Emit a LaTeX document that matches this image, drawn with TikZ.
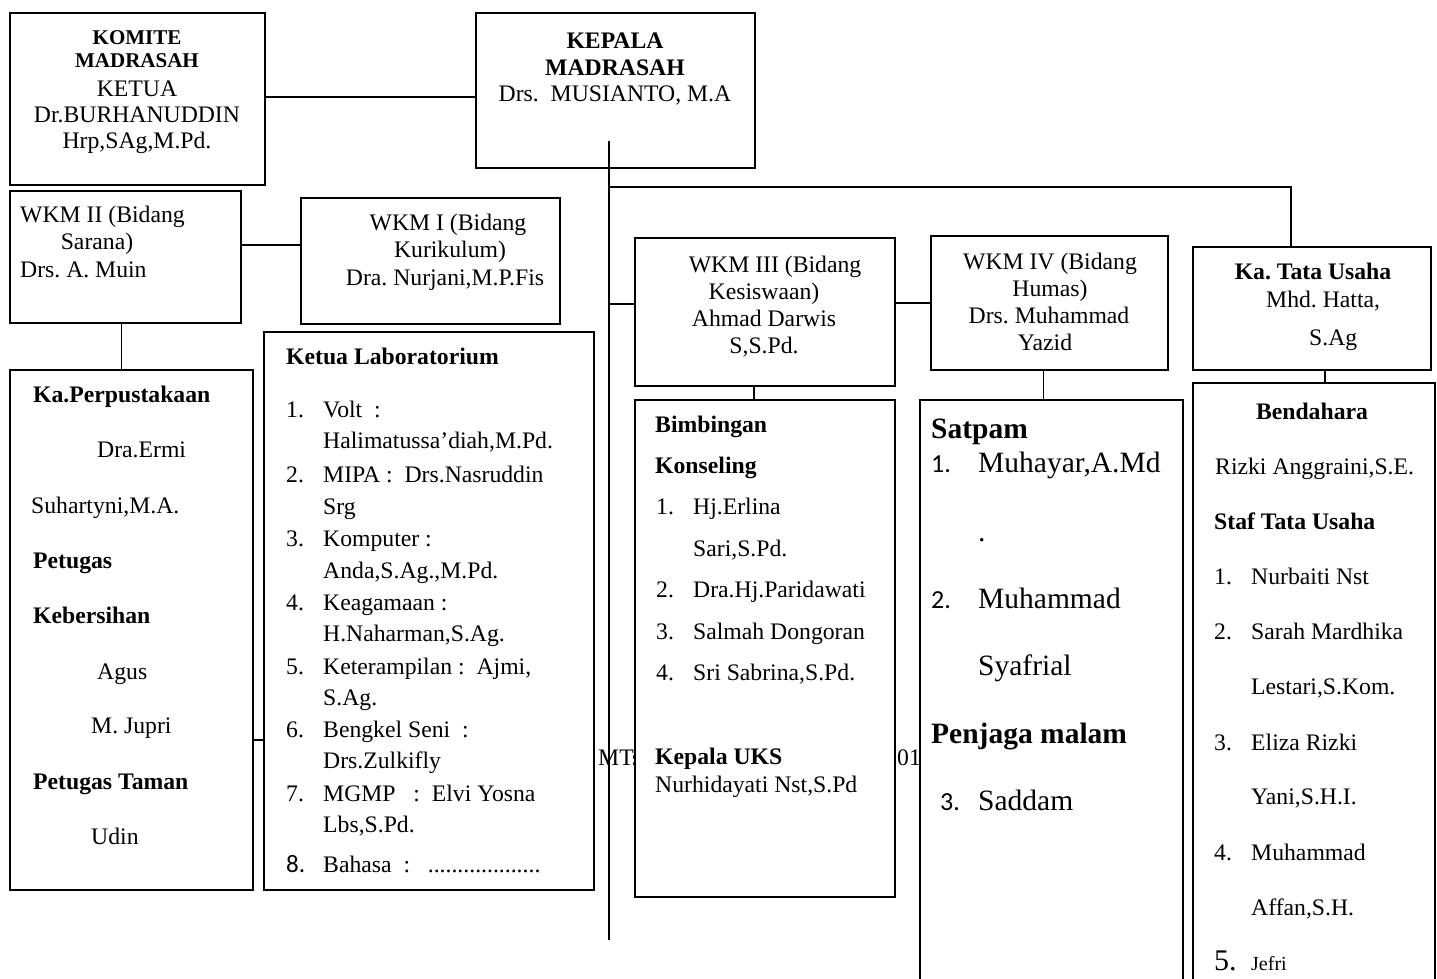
\documentclass[tikz,border=0pt]{standalone}
\usepackage{fontspec}
\setmainfont{Liberation Serif}
\newfontfamily\numfont{Carlito}
\newcommand\fs{\fontsize{23.7}{27}\selectfont}
\newcommand\fsb{\fontsize{21}{25}\selectfont\bfseries}
\newcommand\fl{\fontsize{29.5}{34}\selectfont}
\tikzset{
 box/.style={draw, line width=1.8pt, fill=white, inner sep=0pt, outer sep=0pt},
 conn/.style={line width=1.8pt},
 tl/.style={anchor=base west, inner sep=0pt, font=\fs},
 tm/.style={anchor=base, inner sep=0pt, font=\fs},
}
\frenchspacing
\begin{document}
\frenchspacing
\begin{tikzpicture}[x=1pt,y=-1pt]
\useasboundingbox (0,0) rectangle (1437,978);
% background text partly covered
\node[tl] (mts) at (598,765) {MTs};
\node[tl] (zo) at (897,765) {01};
% boxes
\node[box,minimum width=255pt,minimum height=172pt] (komite) at (137.5,99) {};
\node[box,minimum width=279pt,minimum height=155pt] (kepala) at (615.5,90.5) {};
\node[box,minimum width=231pt,minimum height=132pt] (wkm2) at (125.5,257) {};
\node[box,minimum width=259pt,minimum height=126pt] (wkm1) at (430.5,261) {};
\node[box,minimum width=260pt,minimum height=148pt] (wkm3) at (765,312) {};
\node[box,minimum width=237pt,minimum height=134pt] (wkm4) at (1049.5,303) {};
\node[box,minimum width=238pt,minimum height=123pt] (tu) at (1312,308.5) {};
\node[box,minimum width=243pt,minimum height=520pt] (perpus) at (131.5,630) {};
\node[box,minimum width=330pt,minimum height=558pt] (lab) at (429,611) {};
\node[box,minimum width=260pt,minimum height=497pt] (bk) at (765,648.5) {};
\node[box,minimum width=263pt,minimum height=590pt] (satpam) at (1051.5,695) {};
\node[box,minimum width=242pt,minimum height=607pt] (bend) at (1314,686.5) {};
% connectors
\coordinate (trunkTop) at (609,141);
\coordinate (trunkBot) at (609,940);
\coordinate (brTU) at (609,187);
\coordinate (tuIn) at ([xshift=-21pt]tu.north);
\draw[conn] (trunkTop) -- (trunkBot);
\draw[conn] ([yshift=2pt]komite.east) -- ([yshift=2pt]komite.east -| kepala.west);
\draw[conn] (brTU) -- (brTU -| tuIn) -- (tuIn);
\draw[conn] ([yshift=8pt]wkm3.west) -- ([yshift=8pt]wkm3.west -| trunkTop);
\draw[conn] (wkm3.east |- wkm4.west) -- (wkm4.west);
\draw[conn] ([yshift=12pt]wkm2.east) -- ([yshift=12pt]wkm2.east -| wkm1.west);
\draw[conn] ([xshift=-4pt]wkm2.south) -- ([xshift=-4pt]wkm2.south |- perpus.north);
\draw[conn] ([yshift=-110pt]perpus.east) -- ([yshift=-110pt]perpus.east -| lab.west);
\draw[conn] ([xshift=-11pt]wkm3.south) -- ([xshift=-11pt]wkm3.south |- bk.north);
\draw[conn] ([xshift=-6pt]wkm4.south) -- ([xshift=-6pt]wkm4.south |- satpam.north);
\draw[conn] ([xshift=13pt]tu.south) -- ([xshift=13pt]tu.south |- bend.north);
% KOMITE
\node[tm,font=\fsb] (k1) at (137,44) {KOMITE};
\node[tm,font=\fsb] (k2) at (137,67) {MADRASAH};
\node[tm] (k3) at (137,96) {KETUA};
\node[tm] (k4) at (137,122) {Dr.BURHANUDDIN};
\node[tm] (k5) at (137,148) {Hrp,SAg,M.Pd.};
% KEPALA
\node[tm,font=\fs\bfseries] (h1) at (615,48) {KEPALA};
\node[tm,font=\fs\bfseries] (h2) at (615,75) {MADRASAH};
\node[tm] (h3) at (615,101) {Drs.\ \ MUSIANTO, M.A};
% WKM II
\node[tl] (w21) at (20,222) {WKM II (Bidang};
\node[tm] (w22) at (97,249) {Sarana)};
\node[tl] (w23) at (20,277) {Drs. A. Muin};
% WKM I
\node[tm] (w11) at (448,230) {WKM I (Bidang};
\node[tm] (w12) at (450,257) {Kurikulum)};
\node[tm] (w13) at (445,285) {Dra. Nurjani,M.P.Fis};
% WKM III
\node[tm] (w31) at (775,272) {WKM III (Bidang};
\node[tm] (w32) at (764,299) {Kesiswaan)};
\node[tm] (w33) at (764,326) {Ahmad Darwis};
\node[tm] (w34) at (764,353) {S,S.Pd.};
% WKM IV
\node[tm] (w41) at (1050,269) {WKM IV (Bidang};
\node[tm] (w42) at (1050,296) {Humas)};
\node[tm] (w43) at (1049,323) {Drs. Muhammad};
\node[tm] (w44) at (1045,350) {Yazid};
% TU
\node[tm,font=\fs\bfseries] (u1) at (1313,279) {Ka. Tata Usaha};
\node[tl] (u2) at (1266,307) {Mhd. Hatta,};
\node[tl] (u3) at (1309,345) {S.Ag};
% Perpustakaan
\node[tl,font=\fs\bfseries] (p1) at (33,402) {Ka.Perpustakaan};
\node[tl] (p2) at (97,457) {Dra.Ermi};
\node[tl] (p3) at (31,513) {Suhartyni,M.A.};
\node[tl,font=\fs\bfseries] (p4) at (33,568) {Petugas};
\node[tl,font=\fs\bfseries] (p5) at (33,623) {Kebersihan};
\node[tl] (p6) at (97,679) {Agus};
\node[tl] (p7) at (91,733) {M. Jupri};
\node[tl,font=\fs\bfseries] (p8) at (33,789) {Petugas Taman};
\node[tl] (p9) at (91,844) {Udin};
% Laboratorium
\node[tl,font=\fs\bfseries] (l0) at (286,364) {Ketua Laboratorium};
\node[tl] (ln1) at (286,417) {1.};
\node[tl] (l1a) at (323,417) {Volt\ \ :};
\node[tl] (l1b) at (323,448) {Halimatussa’diah,M.Pd.};
\node[tl] (ln2) at (286,482) {2.};
\node[tl] (l2a) at (323,482) {MIPA :\ \ Drs.Nasruddin};
\node[tl] (l2b) at (323,514) {Srg};
\node[tl] (ln3) at (286,546) {3.};
\node[tl] (l3a) at (323,546) {Komputer :};
\node[tl] (l3b) at (323,578) {Anda,S.Ag.,M.Pd.};
\node[tl] (ln4) at (286,610) {4.};
\node[tl] (l4a) at (323,610) {Keagamaan :};
\node[tl] (l4b) at (323,641) {H.Naharman,S.Ag.};
\node[tl] (ln5) at (286,674) {5.};
\node[tl] (l5a) at (323,674) {Keterampilan :\ \ Ajmi,};
\node[tl] (l5b) at (323,705) {S.Ag.};
\node[tl] (ln6) at (286,737) {6.};
\node[tl] (l6a) at (323,737) {Bengkel Seni\ \ :};
\node[tl] (l6b) at (323,768) {Drs.Zulkifly};
\node[tl] (ln7) at (286,801) {7.};
\node[tl] (l7a) at (323,801) {MGMP\ \ \ :\ \ Elvi Yosna};
\node[tl] (l7b) at (323,832) {Lbs,S.Pd.};
\node[tl,font=\fontsize{25}{29}\selectfont\numfont] (ln8) at (286,872) {8.};
\node[tl] (l8a) at (323,872) {Bahasa\ \ :\ \ \ ...................};
% BK
\node[tl,font=\fs\bfseries] (b0) at (655,432) {Bimbingan};
\node[tl,font=\fs\bfseries] (b00) at (655,473) {Konseling};
\node[tl] (bn1) at (656,514) {1.};
\node[tl] (b1) at (693,514) {Hj.Erlina};
\node[tl] (b1b) at (693,556) {Sari,S.Pd.};
\node[tl] (bn2) at (656,597) {2.};
\node[tl] (b2) at (693,597) {Dra.Hj.Paridawati};
\node[tl] (bn3) at (656,639) {3.};
\node[tl] (b3) at (693,639) {Salmah Dongoran};
\node[tl] (bn4) at (656,680) {4.};
\node[tl] (b4) at (693,680) {Sri Sabrina,S.Pd.};
\node[tl,font=\fs\bfseries] (b5) at (655,764) {Kepala UKS};
\node[tl] (b6) at (655,792) {Nurhidayati Nst,S.Pd};
% Satpam
\node[tl,font=\fl\bfseries] (s0) at (931,438) {Satpam};
\node[tl,font=\fontsize{26}{30}\selectfont\numfont] (sn1) at (931,472) {1.};
\node[tl,font=\fl] (s1) at (978,472) {Muhayar,A.Md};
\node[tl,font=\fl] (s1b) at (978,541) {.};
\node[tl,font=\fontsize{26}{30}\selectfont\numfont] (sn2) at (931,608) {2.};
\node[tl,font=\fl] (s2) at (978,608) {Muhammad};
\node[tl,font=\fl] (s2b) at (978,675) {Syafrial};
\node[tl,font=\fl\bfseries] (s3) at (931,743) {Penjaga malam};
\node[tl,font=\fontsize{26}{30}\selectfont\numfont] (sn3) at (940,810) {3.};
\node[tl,font=\fl] (s4) at (978,810) {Saddam};
% Bendahara
\node[tm,font=\fs\bfseries] (e0) at (1312,419) {Bendahara};
\node[tl] (e1) at (1215,474) {Rizki Anggraini,S.E.};
\node[tl,font=\fs\bfseries] (e2) at (1214,529) {Staf Tata Usaha};
\node[tl] (en1) at (1214,584) {1.};
\node[tl] (e3) at (1251,584) {Nurbaiti Nst};
\node[tl] (en2) at (1214,639) {2.};
\node[tl] (e4) at (1251,639) {Sarah Mardhika};
\node[tl] (e4b) at (1251,694) {Lestari,S.Kom.};
\node[tl] (en3) at (1214,750) {3.};
\node[tl] (e5) at (1251,750) {Eliza Rizki};
\node[tl] (e5b) at (1251,804) {Yani,S.H.I.};
\node[tl] (en4) at (1214,860) {4.};
\node[tl] (e6) at (1251,860) {Muhammad};
\node[tl] (e6b) at (1251,915) {Affan,S.H.};
\node[tl,font=\fontsize{30}{34}\selectfont] (en5) at (1214,970) {5.};
\node[tl,font=\fontsize{20}{24}\selectfont] (e7) at (1251,970) {Jefri};
\end{tikzpicture}
\end{document}
